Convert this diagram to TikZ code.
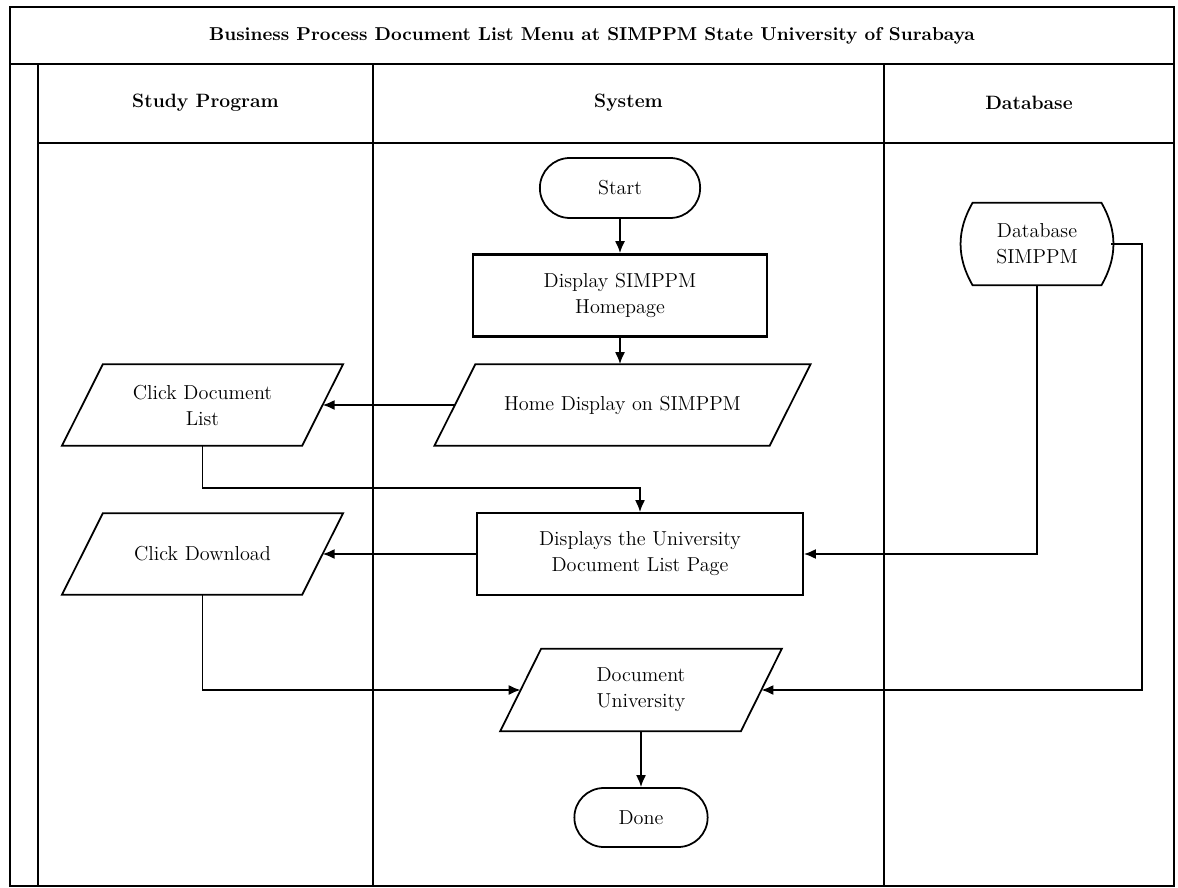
\documentclass[tikz,border=0pt]{standalone}
\usepackage{tikz}
\usetikzlibrary{positioning,arrows.meta,shapes.geometric,shapes.misc}

\begin{document}
\begin{tikzpicture}[
      every node/.style={font=\fontsize{11.5}{14.8}\selectfont},
      lane/.style={line width=1.2pt},
      headtxt/.style={font=\fontsize{11}{14}\selectfont\bfseries},
      termbox/.style={draw, rounded rectangle, line width=1pt, minimum height=1.2cm, align=center},
      procbox/.style={draw, rectangle, line width=1pt, minimum height=1.64cm, align=center},
      iobox/.style={rectangle, minimum height=1.62cm, align=center,
        append after command={\pgfextra{\draw[line width=1pt]
          ([xshift=4.1mm]\tikzlastnode.north west) -- ([xshift=4.1mm]\tikzlastnode.north east)
          -- ([xshift=-4.1mm]\tikzlastnode.south east) -- ([xshift=-4.1mm]\tikzlastnode.south west) -- cycle;}}},
      dbbox/.style={minimum width=2.96cm, minimum height=1.64cm, align=center},
      flow/.style={-{Latex[length=2.4mm,width=2mm]}, line width=1pt}
    ]
      \useasboundingbox (0,0) rectangle (23.56,-17.76);

      % Frame and swimlanes
      \draw[lane] (0.2,-0.14) rectangle (23.48,-17.72);
      \draw[lane] (0.2,-1.28) -- (23.48,-1.28);
      \draw[lane] (0.76,-1.28) -- (0.76,-17.72);
      \draw[lane] (0.76,-2.86) -- (23.48,-2.86);
      \draw[lane] (7.46,-1.28) -- (7.46,-17.72);
      \draw[lane] (17.68,-1.28) -- (17.68,-17.72);

      \node[headtxt, font=\fontsize{10.6}{13}\selectfont\bfseries] (title) at (11.84,-0.71) {Business Process Document List Menu at SIMPPM State University of Surabaya};
      \node[headtxt] (hstudy) at (4.11,-2.06) {Study Program};
      \node[headtxt] (hsys) at (12.57,-2.06) {System};
      \node[headtxt] (hdb) at (20.58,-2.06) {Database};

      % System lane
      \node[termbox, minimum width=3.44cm] (start) at (12.4,-3.76) {Start};
      \node[procbox, minimum width=5.88cm, line width=1.5pt] (home) at (12.4,-5.91) {Display SIMPPM\\Homepage};
      \node[iobox, minimum width=6.69cm] (homedisp) at (12.45,-8.1) {Home Display on SIMPPM};
      \node[procbox, minimum width=6.52cm] (doclist) at (12.8,-11.08) {Displays the University\\Document List Page};
      \node[iobox, minimum width=4.8cm, minimum height=1.64cm] (docuni) at (12.82,-13.8) {Document\\University};
      \node[termbox, minimum width=2.9cm, minimum height=1.18cm] (done) at (12.82,-16.35) {Done};

      % Study Program lane
      \node[iobox, minimum width=4.79cm] (clickdoc) at (4.05,-8.1) {Click Document\\List};
      \node[iobox, minimum width=4.79cm] (clickdl) at (4.05,-11.08) {Click Download};

      % Database lane
      \node[dbbox] (db) at (20.74,-4.88) {Database\\SIMPPM};
      \draw[line width=1pt] ([xshift=0.2cm]db.north west) -- ([xshift=-0.2cm]db.north east)
        to[bend left=30] ([xshift=-0.2cm]db.south east) -- ([xshift=0.2cm]db.south west)
        to[bend left=30] cycle;
      \coordinate (dbout) at (22.84,-4.88);

      % Connectors
      \draw[flow] (start) -- (home);
      \draw[flow] (home) -- (home |- homedisp.north);
      \draw[flow] (homedisp.west) -- (clickdoc.east);
      \draw[flow] (clickdoc.south) -- ++(0,-0.84) -| (doclist.north);
      \draw[flow] (doclist.west) -- (clickdl.east);
      \draw[flow] (clickdl.south) |- (docuni.west);
      \draw[flow] (db.south) |- (doclist.east);
      \draw[flow] (db.east) -- (dbout) |- (docuni.east);
      \draw[flow] (docuni) -- (done);
    \end{tikzpicture}
\end{document}
